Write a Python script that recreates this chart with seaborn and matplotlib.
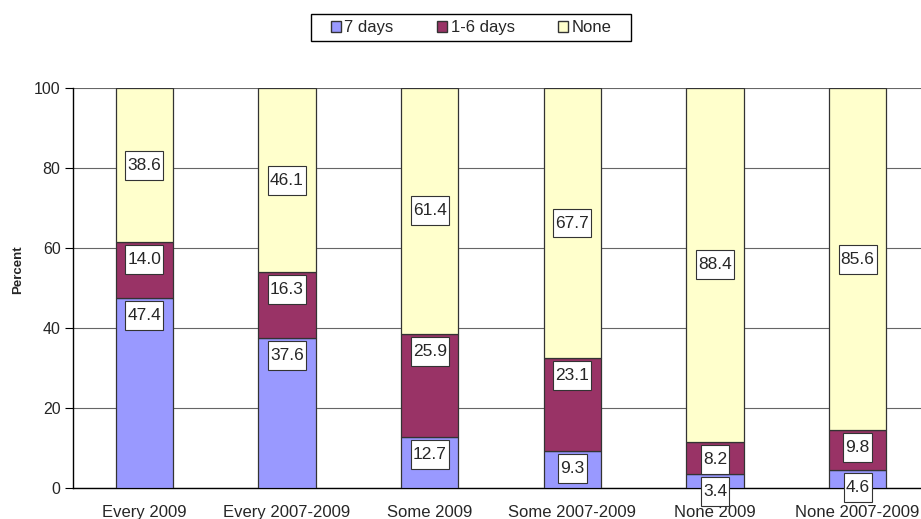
import matplotlib
matplotlib.use("Agg")
import matplotlib.pyplot as plt
import numpy as np
import pandas as pd
import seaborn as sns
from matplotlib.patches import Patch, Rectangle
from matplotlib.path import Path

categories = ["Every 2009", "Every 2007-2009", "Some 2009", "Some 2007-2009", "None 2009", "None 2007-2009"]
seven_days = [47.4, 37.6, 12.7, 9.3, 3.4, 4.6]
one_to_six = [14.0, 16.3, 25.9, 23.1, 8.2, 9.8]
none_days = [38.6, 46.1, 61.4, 67.7, 88.4, 85.6]
series_names = ["7 days", "1-6 days", "None"]
colors = ["#9999FF", "#993366", "#FFFFCC"]

sns.set_style("white")
plt.rcParams["font.family"] = ["Liberation Sans", "DejaVu Sans"]


def label_box(x0, y0, width, height, mutation_size):
    # Excel-style label frame: narrow at the sides, taller at top and bottom
    px = 0.12 * mutation_size
    py = 0.40 * mutation_size
    x0, x1 = x0 - px, x0 + width + px
    y0, y1 = y0 - py, y0 + height + py
    return Path([(x0, y0), (x1, y0), (x1, y1), (x0, y1), (x0, y0)],
                [Path.MOVETO, Path.LINETO, Path.LINETO, Path.LINETO, Path.CLOSEPOLY])


fig = plt.figure(figsize=(9.21, 5.19), dpi=100)
ax = fig.add_axes([73 / 921, 31 / 519, 856 / 921, 400 / 519])

series = [seven_days, one_to_six, none_days]
bottom = np.zeros(len(categories))
for k, (name, vals, col) in enumerate(zip(series_names, series, colors)):
    df = pd.DataFrame({"cat": categories, "val": vals})
    sns.barplot(data=df, x="cat", y="val", bottom=bottom, color=col, width=0.4,
                edgecolor="#333333", linewidth=0.9, saturation=1, ax=ax, zorder=3)
    for i, v in enumerate(vals):
        box = dict(boxstyle=label_box, fc="white", ec="#333333", lw=0.8)
        if k < 2:
            # inside end
            ax.annotate(f"{v:.1f}", xy=(i, bottom[i] + v), xytext=(0, -12.6),
                        textcoords="offset points", ha="center", va="center",
                        fontsize=12.5, zorder=5, annotation_clip=False, bbox=box)
        else:
            ax.text(i, bottom[i] + v / 2, f"{v:.1f}", ha="center", va="center",
                    fontsize=12.5, zorder=5, clip_on=False, bbox=box)
    bottom = bottom + np.array(vals)

ax.set_xlim(-0.5, len(categories) - 0.5)
ax.set_ylim(0, 100)
ax.set_yticks([0, 20, 40, 60, 80, 100])
ax.set_yticklabels(["0", "20", "40", "60", "80", "100"], fontsize=11.5)
ax.yaxis.grid(True, color="#666666", linewidth=0.8, zorder=0)
ax.set_axisbelow(True)

ax.set_xticks(range(len(categories)))
ax.set_xticklabels(categories, fontsize=12)
ax.tick_params(axis="x", length=0, pad=12)
ax.set_xticks(np.arange(0.5, len(categories) - 0.5, 1), minor=True)
ax.tick_params(axis="x", which="minor", length=6, color="black", direction="out")
ax.tick_params(axis="y", length=6, color="black", direction="out", left=True, pad=3)

for side in ["top", "right"]:
    ax.spines[side].set_visible(False)
for side in ["left", "bottom"]:
    ax.spines[side].set_color("black")
    ax.spines[side].set_linewidth(1.0)

ax.set_xlabel("")
ax.set_ylabel("Percent", fontsize=9.5, fontweight="bold")
ax.yaxis.set_label_coords(-0.057, 0.547)

handles = [Patch(facecolor=c, edgecolor="#333333", label=n) for n, c in zip(series_names, colors)]
leg = fig.legend(handles=handles, loc="center", bbox_to_anchor=(471 / 921, 1 - 27.5 / 519),
                 ncol=3, frameon=False, fontsize=12, handlelength=0.62,
                 handleheight=0.62, handletextpad=0.2, columnspacing=2.6, borderpad=0.2)
fig.patches.append(Rectangle((311 / 921, 1 - 41 / 519), 320 / 921, 27 / 519,
                             transform=fig.transFigure, fill=False, ec="black", lw=1.0))

fig.savefig("out.png", dpi=100)
